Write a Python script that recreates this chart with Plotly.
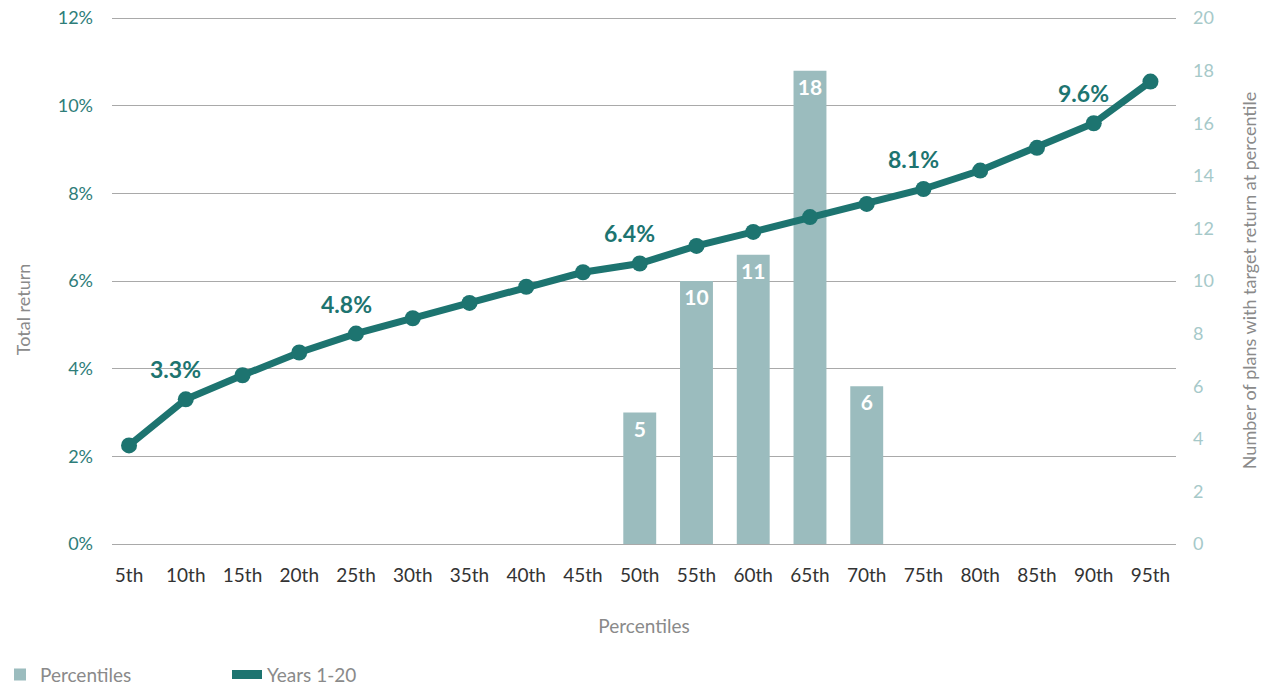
import plotly.graph_objects as go

# Percentile categories
percentiles = ["5th", "10th", "15th", "20th", "25th", "30th", "35th", "40th", "45th", "50th",
               "55th", "60th", "65th", "70th", "75th", "80th", "85th", "90th", "95th"]

# Total return (%) for years 1-20 at each percentile
total_return = [2.25, 3.3, 3.85, 4.37, 4.8, 5.15, 5.5, 5.87, 6.2, 6.4,
                6.8, 7.12, 7.46, 7.76, 8.1, 8.52, 9.04, 9.6, 10.55]

# Number of plans whose target return falls at each percentile
plan_counts = [None, None, None, None, None, None, None, None, None, 5,
               10, 11, 18, 6, None, None, None, None, None]

# Axis ticks
return_ticks = [0, 2, 4, 6, 8, 10, 12]
count_ticks = [0, 2, 4, 6, 8, 10, 12, 14, 16, 18, 20]

# Percentiles whose return gets a callout
labelled = ["10th", "25th", "50th", "75th", "90th"]

FONT = "Lato, 'Open Sans', sans-serif"
LINE_COLOR = "#1d7470"
BAR_COLOR = "#9bbcbe"
GRID = "#a9a9a9"
EPS = 1.002  # nudges the top of both ranges so the 12% gridline is drawn

fig = go.Figure()

fig.add_trace(go.Bar(
    x=percentiles, y=plan_counts, name="Percentiles",
    marker=dict(color=BAR_COLOR, line=dict(width=0)),
    width=0.58,
    text=[str(v) if v is not None else "" for v in plan_counts],
    textposition="inside", insidetextanchor="end",
    textfont=dict(family=FONT, size=21, color="white", weight="bold"),
    cliponaxis=False,
    yaxis="y",
))

fig.add_trace(go.Scatter(
    x=percentiles, y=total_return, name="Years 1-20",
    mode="lines+markers",
    line=dict(color=LINE_COLOR, width=7),
    marker=dict(color=LINE_COLOR, size=16),
    cliponaxis=False, showlegend=False,
    yaxis="y2",
))

# legend entry for the line, drawn as a plain thick stroke
fig.add_trace(go.Scatter(
    x=[None], y=[None], name="Years 1-20", mode="lines",
    line=dict(color=LINE_COLOR, width=9),
    yaxis="y2",
))

for p, v in zip(percentiles, total_return):
    if p in labelled:
        fig.add_annotation(
            x=p, y=v, xref="x", yref="y2", text=f"{v:.1f}%",
            showarrow=False, xshift=-10, yshift=30,
            font=dict(family=FONT, size=23, color=LINE_COLOR, weight="bold"),
        )

# left axis title, set as a rotated label beside the percent ticks
fig.add_annotation(
    text="Total return", xref="paper", yref="paper",
    x=-0.0835, y=0.444, xanchor="center", yanchor="middle",
    textangle=-90, showarrow=False,
    font=dict(family=FONT, size=18, color="#8a8a8a"),
)

fig.update_layout(
    width=1264, height=688,
    margin=dict(l=112, r=88, t=17, b=144, autoexpand=False),
    plot_bgcolor="white", paper_bgcolor="white",
    font=dict(family=FONT, size=18, color="#8a8a8a"),
    xaxis=dict(
        range=[-0.3, 18.45],
        tickfont=dict(family=FONT, size=19, color="#333333"),
        ticks="", showgrid=False, zeroline=False, showline=False,
        ticklabelstandoff=18, automargin=False,
        title=dict(text="Percentiles", font=dict(family=FONT, size=19, color="#8a8a8a"),
                   standoff=34),
    ),
    yaxis=dict(
        side="right", range=[0, 20 * EPS],
        tickvals=count_ticks, ticktext=[str(t) for t in count_ticks],
        tickfont=dict(family=FONT, size=18, color="#a6c9c9"),
        showgrid=False, zeroline=False, ticks="", ticklabelstandoff=16,
        automargin=False,
        title=dict(text="Number of plans with target return at percentile",
                   font=dict(family=FONT, size=18, color="#8a8a8a"), standoff=30),
    ),
    yaxis2=dict(
        overlaying="y", side="left", range=[0, 12 * EPS],
        tickvals=return_ticks, ticktext=[f"{t}%" for t in return_ticks],
        tickfont=dict(family=FONT, size=18, color="#2e7d79"),
        showgrid=True, gridcolor=GRID, gridwidth=1,
        zeroline=True, zerolinecolor=GRID, zerolinewidth=1,
        ticks="", ticklabelstandoff=18, automargin=False,
    ),
    showlegend=True,
    legend=dict(
        orientation="h", xref="container", yref="paper",
        x=-0.012, y=-0.212, xanchor="left", yanchor="top",
        font=dict(family=FONT, size=19, color="#8a8a8a"),
        traceorder="normal", entrywidth=182, itemwidth=30,
    ),
)

fig.write_html("out.html")
